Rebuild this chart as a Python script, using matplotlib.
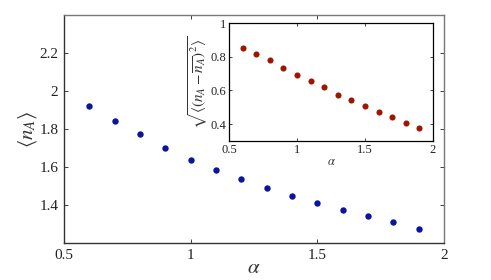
import matplotlib
matplotlib.use("Agg")
import matplotlib.pyplot as plt

plt.rcParams['font.family'] = ['Liberation Serif', 'DejaVu Serif']
plt.rcParams['mathtext.fontset'] = 'stix'

alpha = [0.6, 0.7, 0.8, 0.9, 1.0, 1.1, 1.2, 1.3, 1.4, 1.5, 1.6, 1.7, 1.8, 1.9]
mean_nA = [1.919, 1.842, 1.772, 1.702, 1.638, 1.584, 1.537, 1.489, 1.447, 1.410, 1.372, 1.344, 1.312, 1.275]
std_nA = [0.852, 0.818, 0.780, 0.733, 0.693, 0.653, 0.618, 0.574, 0.541, 0.509, 0.474, 0.440, 0.408, 0.377]

main_xticks = [0.5, 1, 1.5, 2]
main_xticklabels = ['0.5', '1', '1.5', '2']
main_yticks = [1.4, 1.6, 1.8, 2.0, 2.2]
main_yticklabels = ['1.4', '1.6', '1.8', '2', '2.2']
inset_yticks = [0.4, 0.6, 0.8, 1.0]
inset_yticklabels = ['0.4', '0.6', '0.8', '1']

W, H = 491, 280
fig = plt.figure(figsize=(W / 100, H / 100), dpi=100)

# main axes: left 64, right 444, top 15, bottom 243 (pixels)
ax = fig.add_axes([64 / W, 1 - 243 / H, (444 - 64) / W, (243 - 15) / H])
ax.plot(alpha, mean_nA, 'o', color='#0a14a0', markersize=4.6, markeredgewidth=0)
ax.set_xlim(0.5, 2)
ax.set_ylim(1.2, 2.4)
ax.set_xticks(main_xticks)
ax.set_xticklabels(main_xticklabels)
ax.set_yticks(main_yticks)
ax.set_yticklabels(main_yticklabels)
ax.tick_params(direction='in', top=True, right=True, length=3, width=0.6,
               labelsize=11, pad=4, colors='#222222')
for s in ['left', 'bottom']:
    ax.spines[s].set_color('#333333')
    ax.spines[s].set_linewidth(1.0)
for s in ['top', 'right']:
    ax.spines[s].set_color('#777777')
    ax.spines[s].set_linewidth(1.0)
ax.set_xlabel(r'$\alpha$', fontsize=15, labelpad=-2, color='#333333')
ax.set_ylabel(r'$\langle n_A\rangle$', fontsize=15, labelpad=0, color='#333333')

# inset: left 229, right 433, top 23, bottom 141
ins = fig.add_axes([229 / W, 1 - 141 / H, (433 - 229) / W, (141 - 23) / H])
ins.plot(alpha, std_nA, 'o', color='#a01400', markersize=4.4, markeredgewidth=0)
ins.set_xlim(0.5, 2)
ins.set_ylim(0.3, 1.0)
ins.set_xticks(main_xticks)
ins.set_xticklabels(main_xticklabels)
ins.set_yticks(inset_yticks)
ins.set_yticklabels(inset_yticklabels)
ins.tick_params(direction='in', top=True, right=True, length=2.5, width=0.6,
                labelsize=9, pad=2, colors='#222222')
for s in ins.spines.values():
    s.set_color('black')
    s.set_linewidth(0.9)
ins.set_xlabel(r'$\alpha$', fontsize=9, labelpad=0, color='#333333')
ins.set_ylabel(r'$\sqrt{\langle(n_A-\overline{n_A})^2\rangle}$', fontsize=11,
               labelpad=0, color='#333333')

fig.savefig('out.png', dpi=100)
